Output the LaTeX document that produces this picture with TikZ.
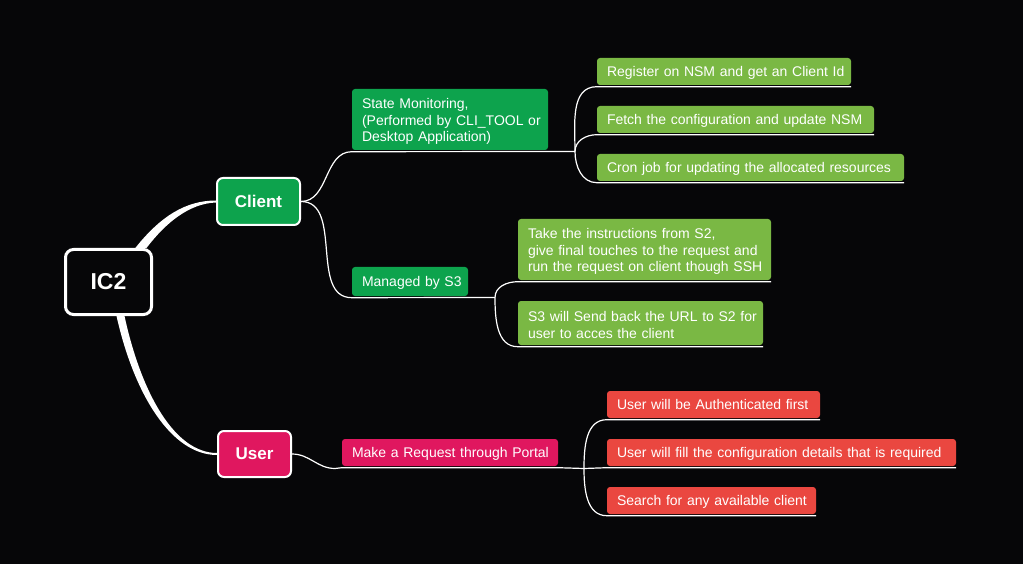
\documentclass[tikz,border=0pt]{standalone}
\usepackage{fontspec}
\setmainfont{Liberation Sans}
\usetikzlibrary{calc}
\definecolor{bg}{HTML}{060608}
\definecolor{dgreen}{HTML}{0DA34D}
\definecolor{lgreen}{HTML}{7AB844}
\definecolor{crim}{HTML}{E0175F}
\definecolor{rred}{HTML}{EA4740}
\newcommand\oneline[1]{\mbox{#1}}
\newcommand\topstrut{\rule{0pt}{14pt}}
\begin{document}
\begin{tikzpicture}[x=1pt,y=-1pt,
  root/.style={draw=white, line width=3pt, fill=bg, rounded corners=8pt, text=white,
    minimum width=86pt, minimum height=65pt, font=\fontsize{23}{26}\selectfont\bfseries},
  lone/.style={draw=white, line width=2pt, rounded corners=6pt, text=white,
    font=\fontsize{17}{20}\selectfont\bfseries},
  box/.style={rounded corners=3pt, text=white, inner xsep=10pt, inner ysep=0pt, align=left,
    font=\fontsize{14}{16.5}\selectfont},
  single/.style={box, text depth=0pt},
  conn/.style={white, line width=1.2pt},
  taper/.style={fill=white}
]
\path[fill=bg] (0,0) rectangle (1023,564);

% nodes
\node[root] (ic2) at (108.5,282) {IC2};
\node[lone, fill=dgreen, minimum width=83pt, minimum height=47pt] (client) at (258.5,201.5) {Client};
\node[lone, fill=crim, minimum width=73pt, minimum height=46pt] (user) at (254.5,454) {User};

\node[box, fill=dgreen, text width=176pt, minimum height=61pt] (sm) at (450,119.5)
  {\topstrut\oneline{State Monitoring,}\\\oneline{(Performed by CLI\_TOOL or}\\\oneline{Desktop Application)}};
\node[single, fill=dgreen, text width=96pt, minimum height=29pt] (mg) at (410,281.5) {\oneline{Managed by S3}};
\node[single, fill=crim, text width=196pt, minimum height=27pt] (mk) at (450,452.5) {\oneline{Make a Request through Portal}};

\node[single, fill=lgreen, text width=234pt, minimum height=27pt] (r1) at (724,71.5) {\oneline{Register on NSM and get an Client Id}};
\node[single, fill=lgreen, text width=257pt, minimum height=27pt] (r2) at (735.5,119.5) {\oneline{Fetch the configuration and update NSM}};
\node[single, fill=lgreen, text width=287pt, minimum height=27pt] (r3) at (750.5,167.5) {\oneline{Cron job for updating the allocated resources}};

\node[box, fill=lgreen, text width=233pt, minimum height=61pt] (t1) at (644.5,249.5)
  {\topstrut\oneline{Take the instructions from S2,}\\\oneline{give final touches to the request and}\\\oneline{run the request on client though SSH}};
\node[box, fill=lgreen, text width=225pt, minimum height=44pt] (t2) at (640.5,323)
  {\topstrut\oneline{S3 will Send back the URL to S2 for}\\\oneline{user to acces the client}};

\node[single, fill=rred, text width=193pt, minimum height=27pt] (u1) at (713.5,404.5) {\oneline{User will be Authenticated first}};
\node[single, fill=rred, text width=329pt, minimum height=27pt] (u2) at (781.5,452.5) {\oneline{User will fill the configuration details that is required}};
\node[single, fill=rred, text width=189pt, minimum height=27pt] (u3) at (711.5,500.5) {\oneline{Search for any available client}};

\coordinate (jsm) at (575,151.5);
\coordinate (jmg) at (495,297.5);
\coordinate (jmk) at (584,468.5);
\coordinate (smk) at (335,468.5);

% tapered root connectors
\path[taper] ($(ic2.north)+(26,1)$) .. controls +(26,-33) and +(-30,0) .. ($(client.west)+(0,-1)$)
  -- ($(client.west)+(0,1)$) .. controls +(-27,1) and +(19,-25) .. ($(ic2.north)+(38,0)$) -- cycle;
\path[taper] ($(ic2.south)+(8,0)$) .. controls +(18,80) and +(-45,0) .. ($(user.west)+(0,1)$)
  -- ($(user.west)+(0,-1)$) .. controls +(-42,0) and +(17,78) .. ($(ic2.south)+(16,0)$) -- cycle;

% client branches
\draw[conn] (client.east) to[out=0,in=180] ($(sm.south west)+(0,1.5)$) -- (jsm);
\draw[conn] (client.east) to[out=0,in=180] ($(mg.south west)+(0,1.5)$) -- (jmg);
% state monitoring children
\draw[conn] (jsm) to[out=90,in=180] ($(r1.south west)+(0,1.5)$) -- ($(r1.south east)+(0,1.5)$);
\draw[conn] (jsm) to[out=90,in=180] ($(r2.south west)+(0,1.5)$) -- ($(r2.south east)+(0,1.5)$);
\draw[conn] (jsm) to[out=-90,in=180] ($(r3.south west)+(0,1.5)$) -- ($(r3.south east)+(0,1.5)$);
% managed children
\draw[conn] (jmg) to[out=90,in=180] ($(t1.south west)+(0,1.5)$) -- ($(t1.south east)+(0,1.5)$);
\draw[conn] (jmg) to[out=-90,in=180] ($(t2.south west)+(0,1.5)$) -- ($(t2.south east)+(0,1.5)$);
% user branch
\draw[conn] (user.east) to[out=0,in=180] (smk) -- ($(mk.south west)+(0,1.5)$) -- ($(mk.south east)+(0,1.5)$) -- (jmk)
  -- ($(u2.south west)+(0,1.5)$) -- ($(u2.south east)+(0,1.5)$);
\draw[conn] (jmk) to[out=90,in=180] ($(u1.south west)+(0,1.5)$) -- ($(u1.south east)+(0,1.5)$);
\draw[conn] (jmk) to[out=-90,in=180] ($(u3.south west)+(0,1.5)$) -- ($(u3.south east)+(0,1.5)$);
\end{tikzpicture}
\end{document}
